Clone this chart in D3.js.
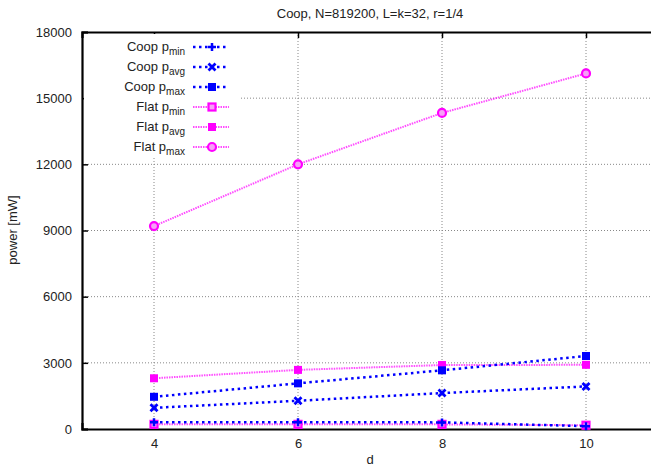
<!DOCTYPE html>
<html>
<head>
<meta charset="utf-8">
<script src="https://cdn.jsdelivr.net/npm/d3@7"></script>
<style>
  html, body { margin: 0; padding: 0; background: #fff; }
  svg { display: block; font-family: "Liberation Sans", Arial, sans-serif; }
</style>
</head>
<body>
<svg id="chart"></svg>
<script>
const title = "Coop, N=819200, L=k=32, r=1/4";
const dValues = [4, 6, 8, 10];
const yTicks = [0, 3000, 6000, 9000, 12000, 15000, 18000];

const coopMin = [310, 305, 300, 130];
const coopAvg = [960, 1280, 1630, 1930];
const coopMax = [1460, 2070, 2660, 3310];
const flatMin = [210, 210, 210, 170];
const flatAvg = [2300, 2680, 2900, 2910];
const flatMax = [9200, 12000, 14330, 16120];

const series = [
  { name: "Coop", sub: "min", values: coopMin, color: "#0000ff", marker: "plus" },
  { name: "Coop", sub: "avg", values: coopAvg, color: "#0000ff", marker: "cross" },
  { name: "Coop", sub: "max", values: coopMax, color: "#0000ff", marker: "fsquare" },
  { name: "Flat", sub: "min", values: flatMin, color: "#ff00ff", marker: "osquare" },
  { name: "Flat", sub: "avg", values: flatAvg, color: "#ff00ff", marker: "fsquare" },
  { name: "Flat", sub: "max", values: flatMax, color: "#ff00ff", marker: "ocircle" }
];

const width = 651, height = 469;
const margin = { top: 32, left: 82, bottom: 40, right: -7 };
const fontSize = 13;

const svg = d3.select("#chart").attr("width", width).attr("height", height);

const x = d3.scaleLinear().domain([3, 11]).range([margin.left, width - margin.right]);
const y = d3.scaleLinear().domain([0, 18000]).range([height - margin.bottom, margin.top]);

//grid
const grid = svg.append("g");
grid.selectAll(".gx").data(dValues).enter().append("line")
  .attr("x1", d => x(d)).attr("x2", d => x(d))
  .attr("y1", y(0)).attr("y2", y(18000))
  .attr("stroke", "#888").attr("stroke-width", 1).attr("stroke-dasharray", "1,2");
grid.selectAll(".gy").data(yTicks.slice(1, -1)).enter().append("line")
  .attr("x1", x(3)).attr("x2", x(11))
  .attr("y1", d => y(d)).attr("y2", d => y(d))
  .attr("stroke", "#888").attr("stroke-width", 1).attr("stroke-dasharray", "1,2");

//axes
const xAxis = d3.axisBottom(x).tickValues(dValues).tickSize(-6).tickPadding(10);
const xTop = d3.axisTop(x).tickValues(dValues).tickSize(-6).tickFormat("");
const yAxis = d3.axisLeft(y).tickValues(yTicks).tickSize(-6).tickPadding(10).tickFormat(d3.format("d"));

function styleAxis(g) {
  g.select(".domain").attr("stroke", "#000").attr("stroke-width", 2.2);
  g.selectAll(".tick line").attr("stroke", "#000").attr("stroke-width", 1.5);
  g.selectAll(".tick text").attr("font-size", fontSize).attr("fill", "#222")
    .attr("font-family", "Liberation Sans, Arial, sans-serif");
}

svg.append("g").attr("transform", `translate(0,${y(0)})`).call(xAxis).call(styleAxis);
svg.append("g").attr("transform", `translate(0,${y(18000)})`).call(xTop).call(styleAxis);
svg.append("g").attr("transform", `translate(${x(3)},0)`).call(yAxis).call(styleAxis);

//lines
const line = d3.line().x((d, i) => x(dValues[i])).y(d => y(d));

function drawMarker(g, type, color, cx, cy) {
  if (type === "plus") {
    g.append("path").attr("d", `M${cx-4},${cy}H${cx+4}M${cx},${cy-4}V${cy+4}`)
      .attr("stroke", color).attr("stroke-width", 2.5);
  } else if (type === "cross") {
    g.append("path").attr("d", `M${cx-3.5},${cy-3.5}L${cx+3.5},${cy+3.5}M${cx-3.5},${cy+3.5}L${cx+3.5},${cy-3.5}`)
      .attr("stroke", color).attr("stroke-width", 2.8);
  } else if (type === "fsquare") {
    g.append("rect").attr("x", cx - 4).attr("y", cy - 4).attr("width", 8).attr("height", 8)
      .attr("fill", color);
  } else if (type === "osquare") {
    g.append("rect").attr("x", cx - 3.5).attr("y", cy - 3.5).attr("width", 7).attr("height", 7)
      .attr("fill", "#f7a0f7").attr("stroke", color).attr("stroke-width", 2.2);
  } else if (type === "ocircle") {
    g.append("circle").attr("cx", cx).attr("cy", cy).attr("r", 4)
      .attr("fill", "#f7a0f7").attr("stroke", color).attr("stroke-width", 2.2);
  }
}

// magenta first then blue
const order = [3, 4, 5, 0, 1, 2];
order.forEach(si => {
  const s = series[si];
  const g = svg.append("g");
  const blue = s.color === "#0000ff";
  g.append("path").datum(s.values).attr("d", line)
    .attr("fill", "none").attr("stroke", s.color)
    .attr("stroke-width", blue ? 2.5 : 2)
    .attr("stroke-opacity", blue ? 1 : 0.7)
    .attr("stroke-dasharray", blue ? "2.5,3.5" : "1.5,1");
  s.values.forEach((v, i) => drawMarker(g, s.marker, s.color, x(dValues[i]), y(v)));
});

//legend
const lg = svg.append("g");
lg.append("rect").attr("x", x(3) + 2).attr("y", y(18000) + 2).attr("width", 155).attr("height", 122)
  .attr("fill", "#fff");
series.forEach((s, i) => {
  const ly = 47 + i * 20;
  const t = lg.append("text").attr("x", 185).attr("y", ly + 4).attr("text-anchor", "end")
    .attr("font-size", fontSize).attr("fill", "#222");
  t.append("tspan").text(s.name + " p");
  t.append("tspan").attr("font-size", 10).attr("dy", 4).text(s.sub);
  const blue = s.color === "#0000ff";
  lg.append("line").attr("x1", 193).attr("x2", 229).attr("y1", ly).attr("y2", ly)
    .attr("stroke", s.color).attr("stroke-width", blue ? 2.5 : 2)
    .attr("stroke-opacity", blue ? 1 : 0.7)
    .attr("stroke-dasharray", blue ? "2.5,3.5" : "1.5,1");
  drawMarker(lg, s.marker, s.color, 212, ly);
});

//title and labels
svg.append("text").attr("x", 370).attr("y", 18).attr("text-anchor", "middle")
  .attr("font-size", fontSize).attr("fill", "#222").text(title);
svg.append("text").attr("x", 370).attr("y", 464).attr("text-anchor", "middle")
  .attr("font-size", fontSize).attr("fill", "#222").text("d");
svg.append("text").attr("transform", "translate(17,230) rotate(-90)").attr("text-anchor", "middle")
  .attr("font-size", fontSize).attr("fill", "#222").text("power [mW]");
</script>
</body>
</html>
